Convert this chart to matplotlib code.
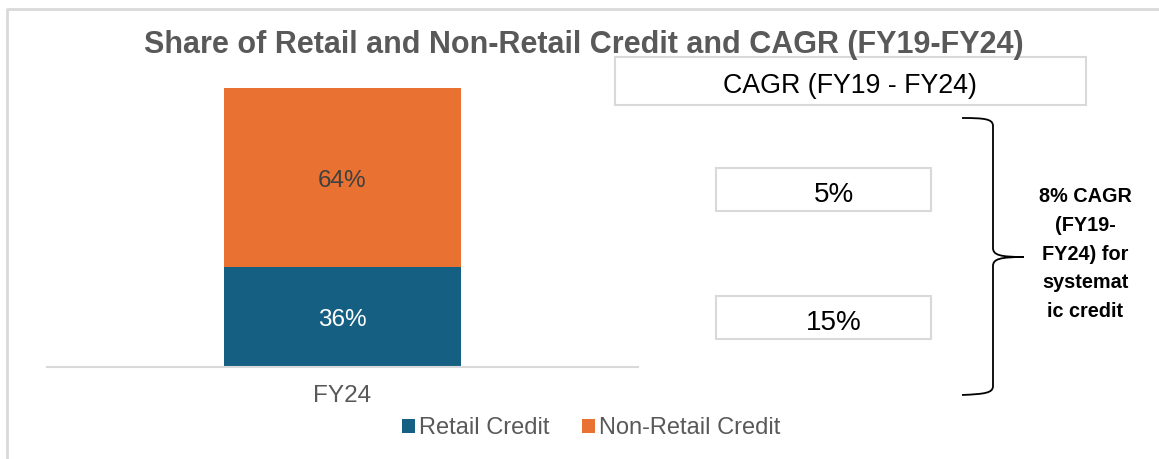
import matplotlib.pyplot as plt
import matplotlib
from matplotlib.patches import Rectangle
from matplotlib.path import Path
from matplotlib.patches import PathPatch

matplotlib.rcParams['font.family'] = ['Liberation Sans', 'DejaVu Sans']

title = "Share of Retail and Non-Retail Credit and CAGR (FY19-FY24)"
categories = ['FY24']
series_names = ['Retail Credit', 'Non-Retail Credit']
retail_share = [36]
non_retail_share = [64]
cagr_header = "CAGR (FY19 - FY24)"
cagr_values = [5, 15]   # non-retail (top box), retail (bottom box)
brace_note = "8% CAGR\n(FY19-\nFY24) for\nsystemat\nic credit"

blue = '#156082'
orange = '#E97132'
grey_text = '#595959'
box_edge = '#D9D9D9'

W, H = 1159, 459
fig = plt.figure(figsize=(W / 100, H / 100), dpi=100)

# bar chart area, in pixel coords -> figure fractions
def frac(x0, y0, x1, y1):
    return [x0 / W, 1 - y1 / H, (x1 - x0) / W, (y1 - y0) / H]

ax = fig.add_axes(frac(47, 88, 638, 367))
bw = 0.40
ax.bar(categories, retail_share, bw, color=blue, label=series_names[0])
ax.bar(categories, non_retail_share, bw, bottom=retail_share, color=orange, label=series_names[1])
ax.set_xlim(-0.5, 0.5)
ax.set_ylim(0, 100)
for s in ['top', 'right', 'left']:
    ax.spines[s].set_visible(False)
ax.spines['bottom'].set_color(box_edge)
ax.spines['bottom'].set_linewidth(1.5)
ax.set_yticks([])
ax.tick_params(axis='x', length=0, labelsize=17.5, labelcolor=grey_text, pad=13)

for i, c in enumerate(categories):
    ax.annotate(f"{retail_share[i]}%", (i, retail_share[i] / 2), xytext=(0, -2),
                textcoords='offset points', ha='center', va='center',
                color='white', fontsize=17.5)
    ax.annotate(f"{non_retail_share[i]}%", (i, retail_share[i] + non_retail_share[i] / 2),
                xytext=(0, -3), textcoords='offset points', ha='center', va='center',
                color='#404040', fontsize=17.5)

handles, labels = ax.get_legend_handles_labels()
fig.legend(handles, labels, loc='center', bbox_to_anchor=(591 / W, 1 - 428 / H),
           ncol=2, frameon=False, fontsize=17, labelcolor=grey_text,
           handlelength=0.55, handleheight=0.55, handletextpad=0.15, columnspacing=1.4)

# overlay in pixel coords for frame, title, CAGR boxes and brace
ov = fig.add_axes([0, 0, 1, 1], zorder=-1)
ov.set_xlim(0, W)
ov.set_ylim(H, 0)
ov.axis('off')
ov.plot([6.5, 6.5, W], [H, 8.5, 8.5], color=box_edge, lw=2)

fig.text(584 / W, 1 - 45 / H, title, ha='center', va='center', fontsize=22,
         fontweight='bold', color=grey_text)

top = fig.add_axes([0, 0, 1, 1], zorder=2)
top.set_xlim(0, W)
top.set_ylim(H, 0)
top.axis('off')
top.patch.set_alpha(0)

top.add_patch(Rectangle((615, 57), 471, 48, fill=False, ec=box_edge, lw=1.5))
top.text(850, 86, cagr_header, ha='center', va='center', fontsize=19.3, color='black')

box_y = [168, 296]
for v, y in zip(cagr_values, box_y):
    top.add_patch(Rectangle((716, y), 215, 43, fill=False, ec=box_edge, lw=1.5))
    top.text(834, y + 27, f"{v}%", ha='center', va='center', fontsize=20, color='black')

# curly brace
verts = [(962, 118), (985, 118), (993, 119), (993, 126),
         (993, 248),
         (993, 255), (1000, 257), (1024, 257),
         (1000, 257), (993, 259), (993, 266),
         (993, 386),
         (993, 393), (985, 394), (962, 395)]
codes = [Path.MOVETO, Path.CURVE4, Path.CURVE4, Path.CURVE4,
         Path.LINETO,
         Path.CURVE4, Path.CURVE4, Path.CURVE4,
         Path.CURVE4, Path.CURVE4, Path.CURVE4,
         Path.LINETO,
         Path.CURVE4, Path.CURVE4, Path.CURVE4]
top.add_patch(PathPatch(Path(verts, codes), fill=False, ec='black', lw=1.3))

top.text(1085, 254, brace_note, ha='center', va='center', fontsize=14.3,
         fontweight='bold', color='black', linespacing=1.64)

fig.savefig('out.png', dpi=100)
